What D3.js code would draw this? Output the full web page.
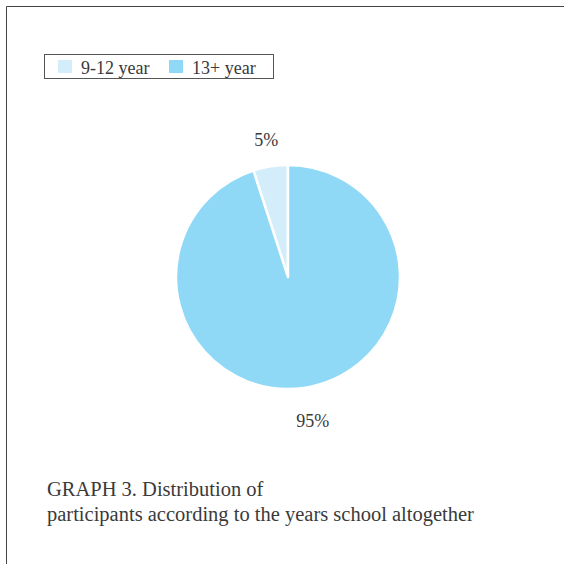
<!DOCTYPE html>
<html>
<head>
<meta charset="utf-8">
<script src="https://cdn.jsdelivr.net/npm/d3@7"></script>
<style>
  html, body { margin: 0; padding: 0; background: #fff; }
  svg { display: block; }
  text { font-family: "Liberation Serif", "DejaVu Serif", serif; fill: #3a3a3a; }
</style>
</head>
<body>
<svg id="chart" width="564" height="564"></svg>
<script>
// Years of schooling, share of participants (%)
const categories = ["9-12 year", "13+ year"];
const values = [5, 95];
const labels = ["5%", "95%"];
const colors = ["#d3eefa", "#8fd9f7"];

const svg = d3.select("#chart");
const W = 564, H = 564;

// outer frame (top and left rules)
svg.append("path")
  .attr("d", `M6.5,${H} V6.5 H${W}`)
  .attr("fill", "none")
  .attr("stroke", "#444")
  .attr("stroke-width", 1);

// legend
const legend = svg.append("g");
legend.append("rect")
  .attr("x", 44.5).attr("y", 54.5)
  .attr("width", 229).attr("height", 24)
  .attr("fill", "#fff").attr("stroke", "#555").attr("stroke-width", 1);
const legendX = [58, 169];
categories.forEach((c, i) => {
  legend.append("rect")
    .attr("x", legendX[i]).attr("y", 60)
    .attr("width", 14).attr("height", 13)
    .attr("fill", colors[i]);
  legend.append("text")
    .attr("x", legendX[i] + 23).attr("y", 73.5)
    .attr("font-size", 18)
    .text(c);
});

// pie
const cx = 288, cy = 277, r = 112;
const total = d3.sum(values);
const start = -2 * Math.PI * values[0] / total;
const pie = d3.pie().sort(null).startAngle(start).endAngle(start + 2 * Math.PI);
const arcs = pie(values);
const arc = d3.arc().innerRadius(0).outerRadius(r);
const labelArc = d3.arc().innerRadius(139).outerRadius(139);

const g = svg.append("g").attr("transform", `translate(${cx},${cy})`);
g.selectAll("path.slice")
  .data(arcs)
  .join("path")
  .attr("class", "slice")
  .attr("d", arc)
  .attr("fill", (d, i) => colors[i])
  .attr("stroke", "#fff")
  .attr("stroke-width", 2.5)
  .attr("stroke-linejoin", "round");

g.selectAll("text.lbl")
  .data(arcs)
  .join("text")
  .attr("class", "lbl")
  .attr("transform", d => {
    const [x, y] = labelArc.centroid(d);
    return `translate(${x + (y > 0 ? 3 : 0)},${y})`;
  })
  .attr("text-anchor", "middle")
  .attr("dy", d => labelArc.centroid(d)[1] > 0 ? "0.7em" : "0.35em")
  .attr("font-size", 18)
  .text((d, i) => labels[i]);

// caption
const caption = svg.append("text").attr("font-size", 20.5);
caption.append("tspan").attr("x", 47).attr("y", 496).text("GRAPH 3. Distribution of");
caption.append("tspan").attr("x", 47).attr("y", 521).text("participants according to the years school altogether");
</script>
</body>
</html>
